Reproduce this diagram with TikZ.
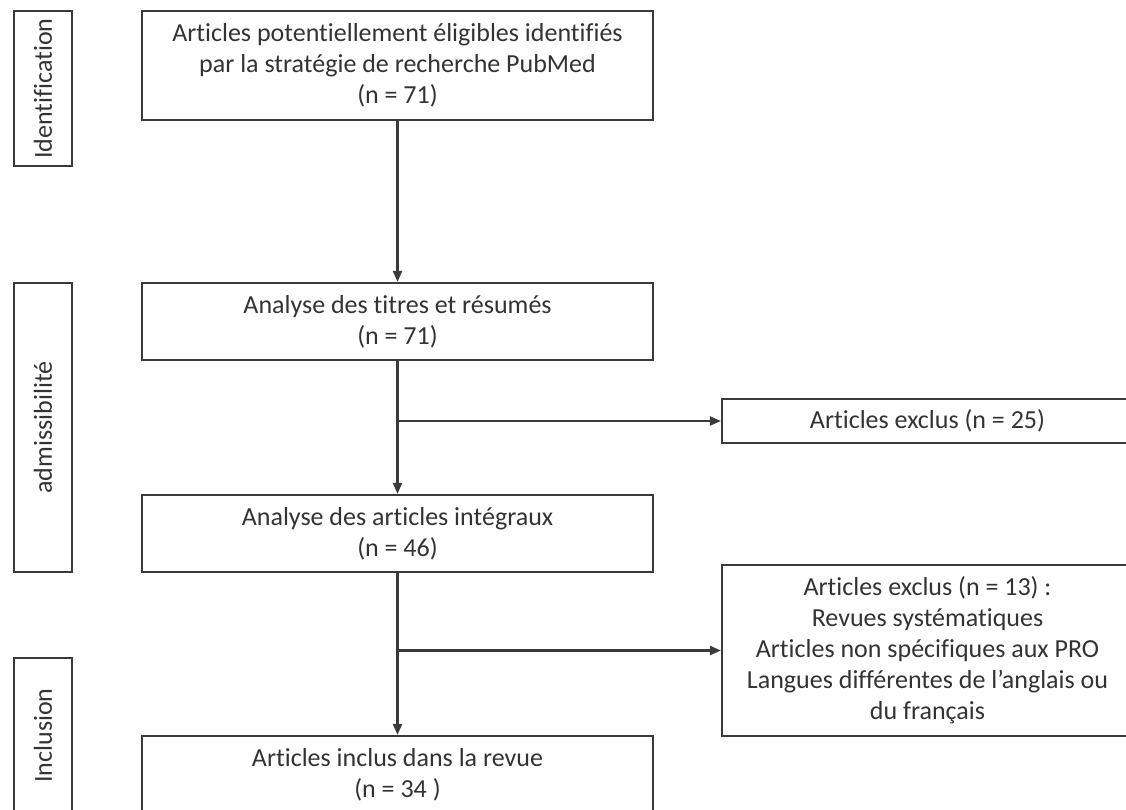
\documentclass[tikz,border=0pt]{standalone}
\usepackage{fontspec}
\setmainfont{Carlito}[Ligatures=NoCommon]
\usetikzlibrary{arrows.meta,positioning}

\definecolor{txtgray}{HTML}{333333}
\definecolor{linegray}{HTML}{3A3A3A}

\begin{document}
\begin{tikzpicture}[x=1pt,y=-1pt,
  box/.style={draw=linegray, line width=2.2pt, inner sep=0pt, align=center,
    text=txtgray, font=\fontsize{26}{31}\selectfont, minimum width=511, minimum height=77},
  sidebox/.style={box, rotate=90, minimum width=155, minimum height=58},
  exbox/.style={box, minimum width=411},
  flow/.style={draw=linegray, line width=2.2pt, -{Triangle[length=11pt,width=9pt]}}]
  \useasboundingbox (0,0) rectangle (1126,810);

  \node[sidebox] (ident) at (43,88.5) {Identification};
  \node[sidebox, minimum width=289] (admis) at (43,427.5) {admissibilit\'e};
  \node[sidebox] (incl) at (43,735.5) {Inclusion};

  \node[box, minimum height=109] (found) at (397.5,65.5)
    {Articles potentiellement \'eligibles identifi\'es\\par la strat\'egie de recherche PubMed\\(n = 71)};
  \node[box] (screen) at (397.5,321.5) {Analyse des titres et r\'esum\'es\\(n = 71)};
  \node[box] (full) at (397.5,533.5) {Analyse des articles int\'egraux\\(n = 46)};
  \node[box] (incld) at (397.5,774.5) {Articles inclus dans la revue\\(n = 34 )};

  \node[exbox, minimum height=44] (excl1) at (927.5,421) {Articles exclus (n = 25)};
  \node[exbox, minimum height=171] (excl2) at (927.5,650.5)
    {Articles exclus (n = 13) :\\Revues syst\'ematiques\\Articles non sp\'ecifiques aux PRO\\Langues diff\'erentes de l’anglais ou\\du fran\c{c}ais};

  \coordinate (j1) at (screen.south |- excl1.west);
  \coordinate (j2) at (full.south |- excl2.west);

  \path
  (found) edge[flow] (screen)
  (screen) edge[flow] (full)
  (full) edge[flow] (incld)
  (j1) edge[flow] (excl1)
  (j2) edge[flow] (excl2);
\end{tikzpicture}
\end{document}
